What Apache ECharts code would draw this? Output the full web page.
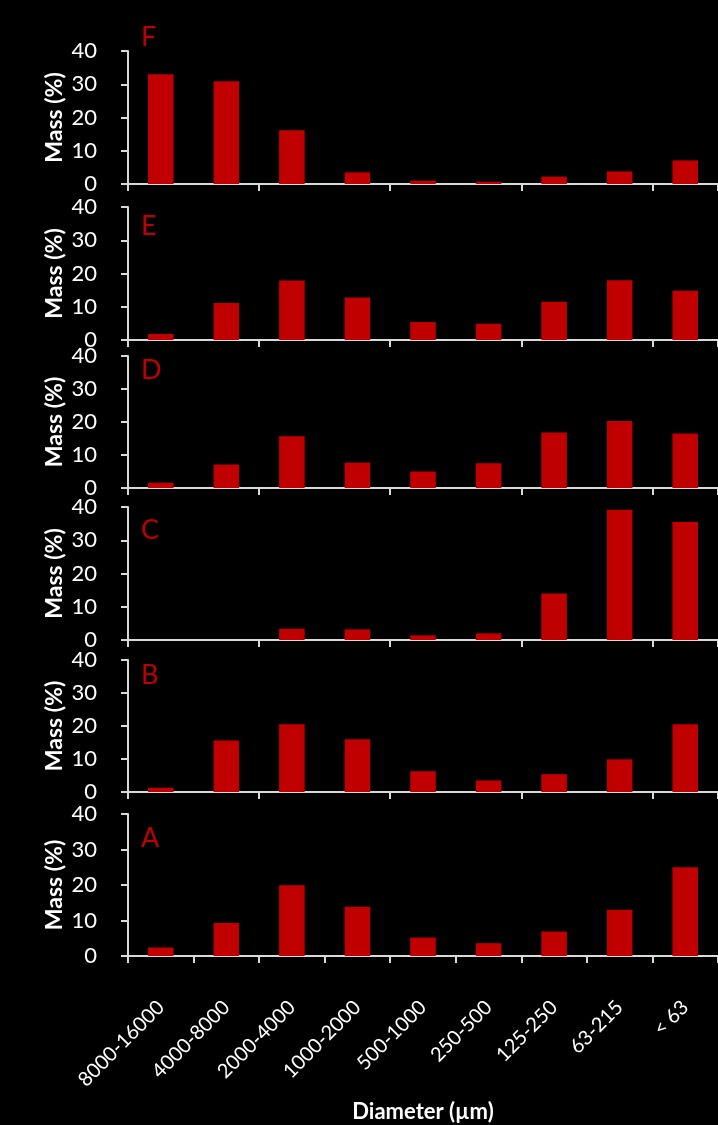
<!DOCTYPE html>
<html>
<head>
<meta charset="utf-8">
<script src="https://cdn.jsdelivr.net/npm/echarts@6/dist/echarts.min.js"></script>
<style>
html,body{margin:0;padding:0;background:#000;}
#chart{width:718px;height:1125px;}
</style>
</head>
<body>
<div id="chart"></div>
<script>
const categories = ['8000-16000','4000-8000','2000-4000','1000-2000','500-1000','250-500','125-250','63-215','< 63'];
const panelNames = ['F','E','D','C','B','A'];
const massF = [33.0, 30.9, 16.2, 3.5, 1.0, 0.7, 2.2, 3.8, 7.1];
const massE = [1.8, 11.1, 17.9, 12.8, 5.4, 4.9, 11.5, 18.0, 14.8];
const massD = [1.6, 7.1, 15.7, 7.7, 5.0, 7.5, 16.8, 20.3, 16.5];
const massC = [0, 0, 3.4, 3.2, 1.4, 2.0, 14.0, 39.2, 35.5];
const massB = [1.3, 15.6, 20.5, 16.0, 6.3, 3.5, 5.4, 9.9, 20.5];
const massA = [2.4, 9.3, 19.9, 13.9, 5.2, 3.6, 6.9, 13.0, 25.0];
const yMin = 0, yMax = 40, yStep = 10;
const yAxisTitle = 'Mass (%)';
const xAxisTitle = 'Diameter (µm)';

const seriesData = [massF, massE, massD, massC, massB, massA];
// layout: top of each grid (value 40) and its height in px
const gridTops = [51, 207, 356, 507, 660, 814];
const gridHeights = [133, 133, 132, 133, 132, 142];
const letterY = [39, 228, 372, 532, 677, 840];

const FONT = 'Lato, "Open Sans", sans-serif';
const AXIS_COLOR = '#d9d9d9';
const BAR_COLOR = '#c00000';

const grids = [], xAxes = [], yAxes = [], series = [], graphics = [];
seriesData.forEach((vals, i) => {
  const last = i === seriesData.length - 1;
  grids.push({left: 128, right: -11, top: gridTops[i], height: gridHeights[i], containLabel: false});
  xAxes.push({
    type: 'category', gridIndex: i, data: categories,
    axisLine: {show: true, lineStyle: {color: AXIS_COLOR, width: 2}},
    axisTick: {show: true, length: 7, lineStyle: {color: AXIS_COLOR, width: 2}},
    axisLabel: last ? {show: true, rotate: 45, margin: 48, color: '#ffffff', fontFamily: FONT, fontSize: 20, interval: 0} : {show: false},
    name: last ? xAxisTitle : '', nameLocation: 'middle', nameGap: 145, nameMoveOverlap: false,
    nameTextStyle: {color: '#ffffff', fontFamily: FONT, fontSize: 22, fontWeight: 'bold'},
    splitLine: {show: false}
  });
  yAxes.push({
    type: 'value', gridIndex: i, min: yMin, max: yMax, interval: yStep,
    axisLine: {show: true, lineStyle: {color: AXIS_COLOR, width: 2}},
    axisTick: {show: true, length: 7, lineStyle: {color: AXIS_COLOR, width: 2}},
    axisLabel: {color: '#ffffff', fontFamily: FONT, fontSize: 22, margin: 31},
    splitLine: {show: false},
    name: yAxisTitle, nameLocation: 'middle', nameRotate: 90, nameGap: 62, nameMoveOverlap: false,
    nameTextStyle: {color: '#ffffff', fontFamily: FONT, fontSize: 23, fontWeight: 'bold'}
  });
  series.push({
    type: 'bar', xAxisIndex: i, yAxisIndex: i, data: vals, barWidth: '39%',
    itemStyle: {color: BAR_COLOR},
    silent: true, animation: false
  });
  graphics.push({
    type: 'text', left: 141, top: letterY[i] - 15,
    style: {text: panelNames[i], fill: BAR_COLOR, font: '27px ' + FONT}
  });
});

const chart = echarts.init(document.getElementById('chart'), null, {renderer: 'canvas'});
chart.setOption({
  backgroundColor: '#000000',
  animation: false,
  grid: grids, xAxis: xAxes, yAxis: yAxes, series: series,
  graphic: graphics
});
</script>
</body>
</html>
